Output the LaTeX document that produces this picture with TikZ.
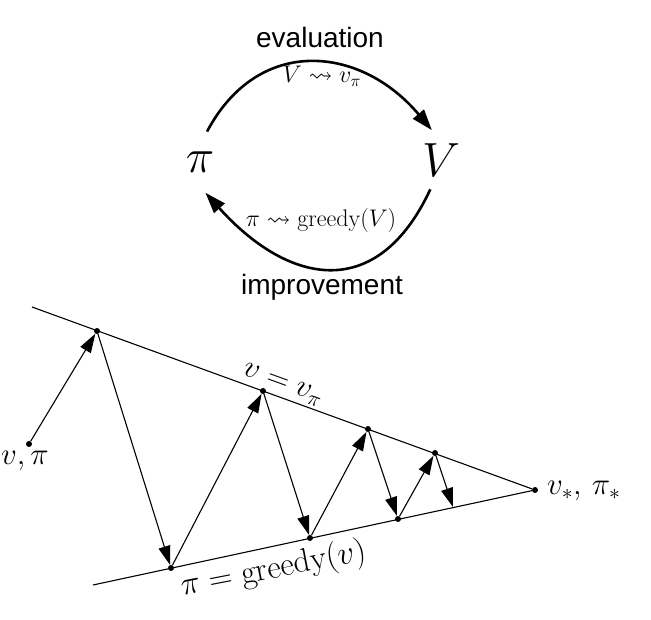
\RequirePackage{fix-cm}
\documentclass[tikz,border=0pt]{standalone}
\usepackage{amsmath}
\usepackage{amssymb}
\usepackage{fontspec}
\newfontfamily\wordfont{Liberation Sans}
\usepackage{tikz}
\usetikzlibrary{arrows.meta, positioning}

\begin{document}
\begin{tikzpicture}[x=1pt, y=1pt,
  dot/.style={circle, fill, inner sep=0pt, minimum size=6pt},
  zig/.style={-{Triangle[length=19pt, width=12pt]}, line width=1.1pt},
  cyc/.style={-{Triangle[length=21pt, width=14pt]}, line width=2.6pt},
  word/.style={font=\wordfont\fontsize{28}{32}\selectfont, inner sep=0pt},
  bigmath/.style={circle, inner sep=0pt, minimum size=62pt, font=\fontsize{48}{56}\selectfont},
  mapmath/.style={font=\fontsize{24}{28}\selectfont, inner sep=0pt},
  lowmath/.style={font=\fontsize{31}{36}\selectfont, inner sep=0pt}]
\useasboundingbox (0,0) rectangle (651,620);

% policy iteration cycle
\node[bigmath] (pi) at (200,458) {$\pi$};
\node[bigmath] (V) at (441,460) {$V$};
\node[word, anchor=base] (evalword) at (320,572) {evaluation};
\node[mapmath, anchor=base] (evalmap) at (322,537) {$V \leadsto v_\pi$};
\node[mapmath, anchor=base] (imprmap) at (321,393) {$\pi \leadsto \mathrm{greedy}(V)$};
\node[word, anchor=base] (imprword) at (322,325) {improvement};

\draw[cyc] (pi.77) to[out=62, in=130, looseness=1.25] (V.107);
\draw[cyc] (V.-110) to[out=-115, in=-48, looseness=1.42] (pi.-80);

% the two lines meeting at the optimum
\coordinate (u0) at (32,313);
\coordinate (l0) at (93,35);
\node[dot] (opt) at (535,130) {};
\draw[line width=1.1pt] (u0) -- (opt);
\draw[line width=1.1pt] (l0) -- (opt);

% zig-zag between them
\node[dot] (s) at (29,176) {};
\node[dot] (a1) at (97,289) {};
\node[dot] (b1) at (171,52) {};
\node[dot] (a2) at (263,229) {};
\node[dot] (b2) at (310,82) {};
\node[dot] (a3) at (368,191) {};
\node[dot] (b3) at (398,101) {};
\node[dot] (a4) at (435,167) {};
\coordinate (b4) at (453,113);

\foreach \p/\q in {s/a1, a1/b1, b1/a2, a2/b2, b2/a3, a3/b3, b3/a4, a4/b4}
  \draw[zig] (\p) -- (\q);

% labels
\node[lowmath, anchor=base] (slab) at (25,155) {$v,\pi$};
\node[lowmath, anchor=base west] (optlab) at (547,125) {$v_*,\,\pi_*$};
\node[lowmath, anchor=base, rotate=-20] (vlab) at (281,231) {$v = v_\pi$};
\node[lowmath, anchor=base, rotate=11, font=\fontsize{33}{38}\selectfont] (glab) at (275,42) {$\pi = \mathrm{greedy}(v)$};
\end{tikzpicture}
\end{document}
